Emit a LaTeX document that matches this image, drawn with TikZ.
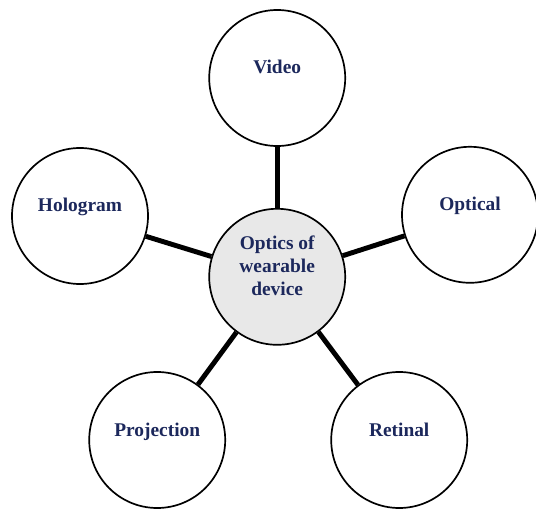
\documentclass[tikz,border=0pt]{standalone}
\usepackage{fontspec}
\setmainfont{Liberation Serif}
\usepackage{xcolor}
\usepackage{tikz}
\usetikzlibrary{positioning}
\definecolor{labelnavy}{RGB}{28,40,92}

\begin{document}
\begin{tikzpicture}[
    bubble/.style={circle, draw=black, line width=1.2pt, fill=white,
      minimum size=3.4cm, inner sep=0pt, text=labelnavy,
      font=\fontsize{13.8}{16.5}\selectfont\bfseries,
      text height=0.35cm, text depth=0.55cm},
    spoke/.style={black, line width=3.5pt}]
  \useasboundingbox (0,0) rectangle (13.4,12.7);
  % centre and the five kinds around it
  \node[bubble, fill=gray!18, align=center, text height=1.51cm, text depth=0.55cm]
        (core) at (6.93,5.78) {Optics of\\wearable\\device};
  \node[bubble] (video)      at (6.93,10.75) {Video};
  \node[bubble] (hologram)   at (2.0,7.3)    {Hologram};
  \node[bubble] (optical)    at (11.75,7.33) {Optical};
  \node[bubble] (projection) at (3.93,1.7)   {Projection};
  \node[bubble] (retinal)    at (9.98,1.7)   {Retinal};
  \draw[spoke] (core) -- (video);
  \draw[spoke] (core) -- (hologram);
  \draw[spoke] (core) -- (optical);
  \draw[spoke] (core) -- (projection);
  \draw[spoke] (core) -- (retinal);
\end{tikzpicture}
\end{document}
